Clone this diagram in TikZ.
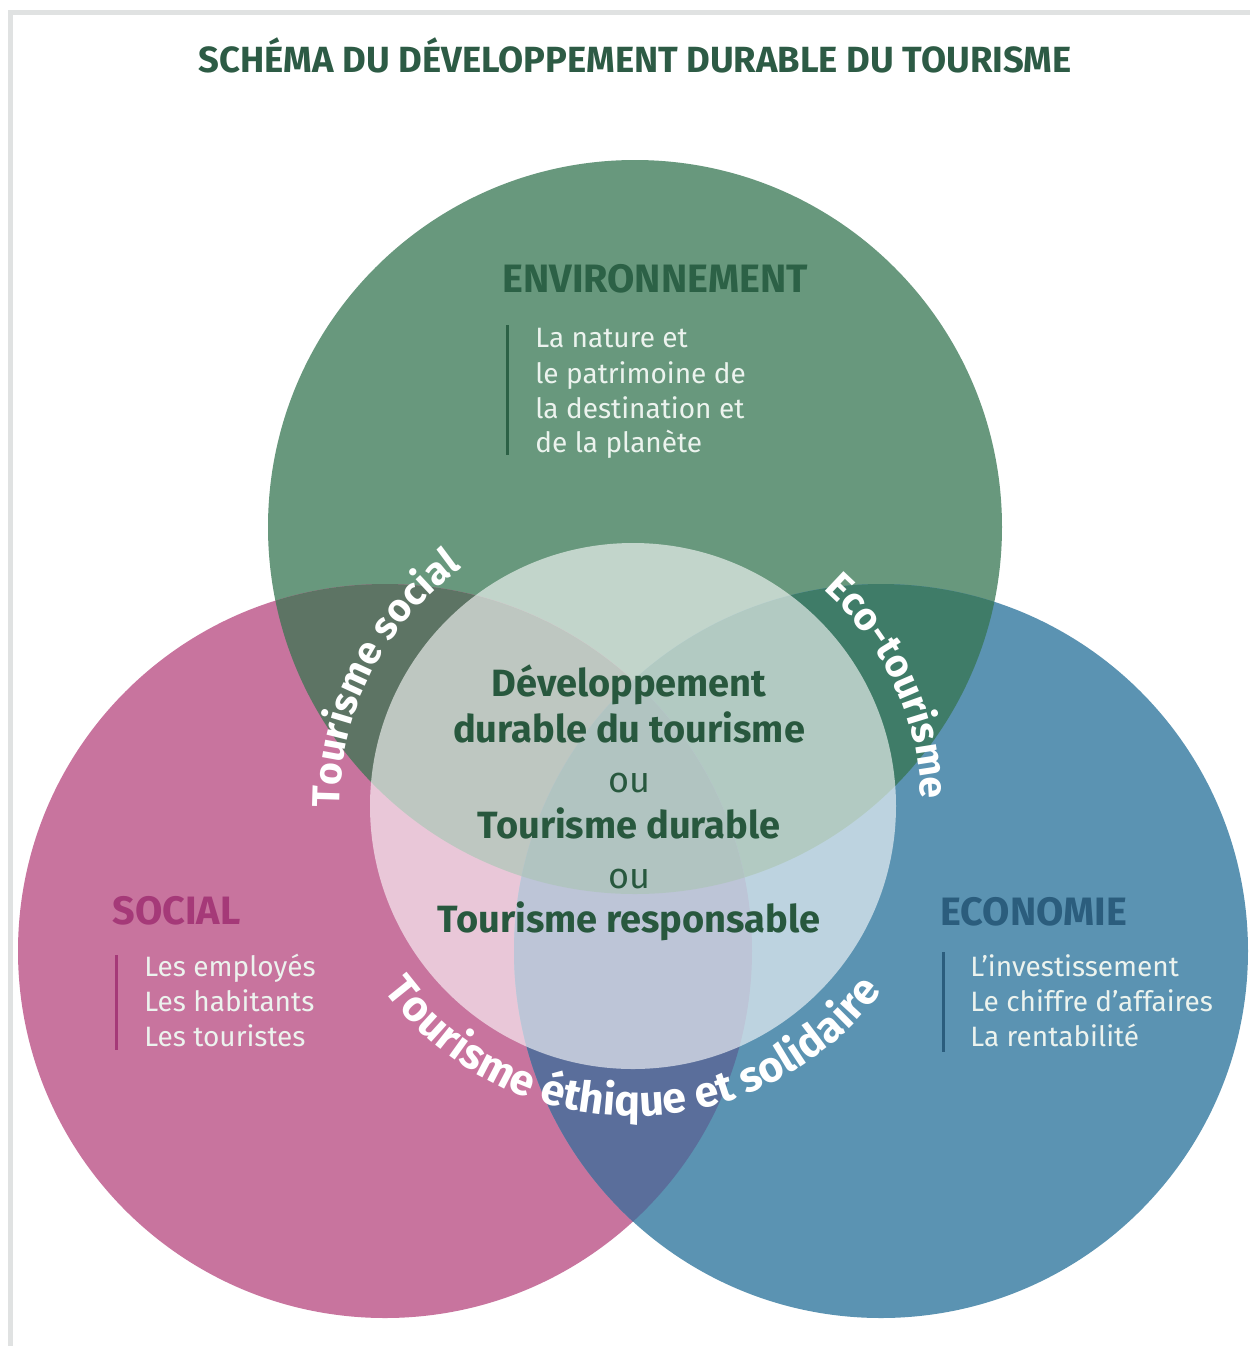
\documentclass[tikz,border=0pt]{standalone}
\usepackage{fontspec}
\setmainfont{Fira Sans}
\usetikzlibrary{decorations.text,calc}
\definecolor{envc}{RGB}{104,152,125}
\definecolor{socc}{RGB}{200,116,158}
\definecolor{ecoc}{RGB}{91,147,178}
\definecolor{envsoc}{RGB}{93,116,100}
\definecolor{enveco}{RGB}{63,124,104}
\definecolor{soceco}{RGB}{90,110,155}
\definecolor{triple}{RGB}{62,108,102}
\definecolor{titlec}{RGB}{45,91,69}
\definecolor{envhead}{RGB}{44,97,70}
\definecolor{sochead}{RGB}{165,57,120}
\definecolor{ecohead}{RGB}{43,93,125}
\definecolor{bodytext}{RGB}{236,243,238}
\definecolor{centertext}{RGB}{40,88,62}
\definecolor{framec}{RGB}{224,226,226}
\begin{document}
\begin{tikzpicture}[x=0.5pt,y=-0.5pt,
  titlestyle/.style={font=\bfseries\fontsize{18.2}{20}\selectfont, text=titlec, anchor=base, inner sep=0},
  headstyle/.style={font=\bfseries\fontsize{19.8}{22}\selectfont, anchor=base west, inner sep=0},
  bodystyle/.style={font=\fontsize{14}{17}\selectfont, text=bodytext, anchor=base west, inner sep=0},
  centerbold/.style={font=\bfseries\fontsize{19}{21}\selectfont, text=centertext, anchor=base, inner sep=0},
  centerou/.style={font=\fontsize{18}{20}\selectfont, text=centertext, anchor=base, inner sep=0},
  barline/.style={line width=1.5pt},
  curved/.style 2 args={decorate, decoration={text along path, text align=center, text color=white,
     text={|\bfseries\fontsize{#1}{22}\selectfont|#2}}}
]
\useasboundingbox (0,0) rectangle (1250,1346);
\fill[white] (0,0) rectangle (1250,1346);
% frame
\fill[framec] (8,10) rectangle (1250,15);
\fill[framec] (8,10) rectangle (13,1346);

\coordinate (E) at (635,527);
\coordinate (S) at (385,951);
\coordinate (B) at (881,951);
\coordinate (C) at (633,806);
\def\R{183.5pt}

\fill[envc] (E) circle[radius=\R];
\fill[socc] (S) circle[radius=\R];
\fill[ecoc] (B) circle[radius=\R];
\begin{scope}
  \clip (E) circle[radius=\R];
  \fill[envsoc] (S) circle[radius=\R];
  \fill[enveco] (B) circle[radius=\R];
\end{scope}
\begin{scope}
  \clip (S) circle[radius=\R];
  \fill[soceco] (B) circle[radius=\R];
\end{scope}
\begin{scope}
  \clip (E) circle[radius=\R];
  \clip (S) circle[radius=\R];
  \fill[triple] (B) circle[radius=\R];
\end{scope}
\fill[white, opacity=0.6] (C) circle[radius=131.5pt];

% title
\node[titlestyle] (title) at (635,72) {SCHÉMA DU DÉVELOPPEMENT DURABLE DU TOURISME};

% environnement
\node[headstyle, text=envhead] (envh) at (502,292) {ENVIRONNEMENT};
\draw[barline, draw=envhead] (507,325) -- (507,455);
\node[bodystyle] (env1) at (535,347) {La nature et};
\node[bodystyle] (env2) at (535,383) {le patrimoine de};
\node[bodystyle] (env3) at (535,418) {la destination et};
\node[bodystyle] (env4) at (535,452) {de la planète};

% social
\node[headstyle, text=sochead] (soch) at (112,924) {SOCIAL};
\draw[barline, draw=sochead] (116,955) -- (116,1050);
\node[bodystyle] (soc1) at (144,976) {Les employés};
\node[bodystyle] (soc2) at (144,1011) {Les habitants};
\node[bodystyle] (soc3) at (144,1046) {Les touristes};

% economie
\node[headstyle, text=ecohead] (ecoh) at (940,925) {ECONOMIE};
\draw[barline, draw=ecohead] (943,952) -- (943,1052);
\node[bodystyle] (eco1) at (970,976) {L'investissement};
\node[bodystyle] (eco2) at (970,1011) {Le chiffre d'affaires};
\node[bodystyle] (eco3) at (970,1046) {La rentabilité};

% centre
\node[centerbold] (c1) at (629,696) {Développement};
\node[centerbold] (c2) at (629,742) {durable du tourisme};
\node[centerou] (c3) at (629,792) {ou};
\node[centerbold] (c4) at (629,838) {Tourisme durable};
\node[centerou] (c5) at (629,888) {ou};
\node[centerbold] (c6) at (629,932) {Tourisme responsable};

% curved labels
\path[curved={19.5}{Tourisme social}] ($(C)+(209:146.5pt)$) arc[start angle=209, end angle=97, radius=146.5pt];
\path[curved={19.5}{Eco-tourisme}] ($(C)+(80:144pt)$) arc[start angle=80, end angle=-30, radius=144pt];
\path[curved={21.5}{Tourisme éthique et solidaire}] ($(C)+(185:155pt)$) arc[start angle=185, end angle=355, radius=155pt];
\end{tikzpicture}
\end{document}
